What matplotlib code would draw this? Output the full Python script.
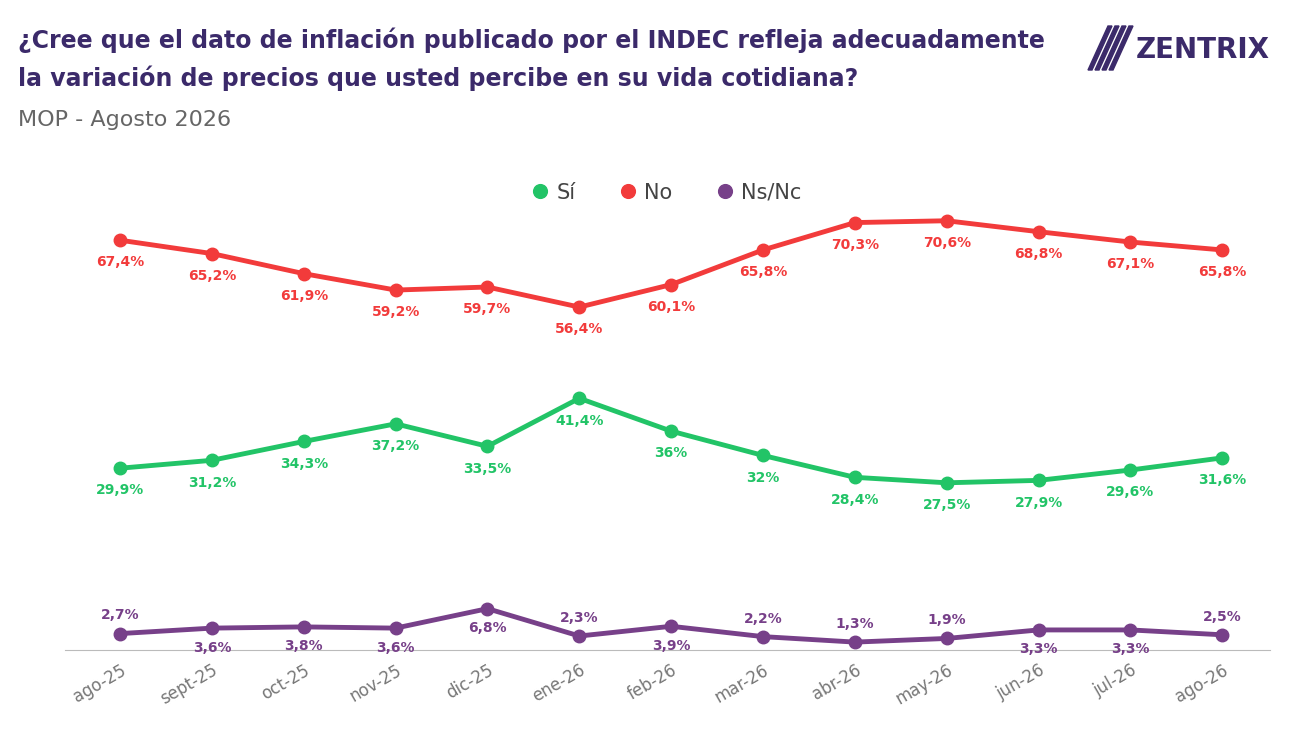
import matplotlib.pyplot as plt
from matplotlib.patches import Polygon

meses = ["ago-25", "sept-25", "oct-25", "nov-25", "dic-25", "ene-26", "feb-26",
         "mar-26", "abr-26", "may-26", "jun-26", "jul-26", "ago-26"]
si = [29.9, 31.2, 34.3, 37.2, 33.5, 41.4, 36, 32, 28.4, 27.5, 27.9, 29.6, 31.6]
no = [67.4, 65.2, 61.9, 59.2, 59.7, 56.4, 60.1, 65.8, 70.3, 70.6, 68.8, 67.1, 65.8]
nsnc = [2.7, 3.6, 3.8, 3.6, 6.8, 2.3, 3.9, 2.2, 1.3, 1.9, 3.3, 3.3, 2.5]
nsnc_arriba = [True, False, False, False, False, True, False, True, True, True, False, False, True]

c_si, c_no, c_ns = "#22c467", "#f23b3b", "#774089"
c_title = "#3b2a6a"

fig = plt.figure(figsize=(13, 7.31), dpi=100)
ax = fig.add_axes([65 / 1300, 1 - 650 / 731, 1205 / 1300, 456 / 731])
x = list(range(len(meses)))

def fmt(v):
    s = f"{v:.1f}".replace(".", ",")
    if s.endswith(",0"):
        s = s[:-2]
    return s + "%"

for vals, col, name in [(si, c_si, "Sí"), (no, c_no, "No"), (nsnc, c_ns, "Ns/Nc")]:
    ax.plot(x, vals, color=col, lw=3.5, marker="o", ms=9, label=name, solid_capstyle="round")

for i in x:
    ax.annotate(fmt(si[i]), (i, si[i]), xytext=(0, -11), textcoords="offset points",
                ha="center", va="top", color=c_si, fontsize=10, fontweight="bold")
    ax.annotate(fmt(no[i]), (i, no[i]), xytext=(0, -11), textcoords="offset points",
                ha="center", va="top", color=c_no, fontsize=10, fontweight="bold")
    if nsnc_arriba[i]:
        ax.annotate(fmt(nsnc[i]), (i, nsnc[i]), xytext=(0, 8), textcoords="offset points",
                    ha="center", va="bottom", color=c_ns, fontsize=10, fontweight="bold")
    else:
        ax.annotate(fmt(nsnc[i]), (i, nsnc[i]), xytext=(0, -9), textcoords="offset points",
                    ha="center", va="top", color=c_ns, fontsize=10, fontweight="bold")

ax.set_xlim(-0.6, 12.52)
ax.set_ylim(0, 75)
ax.set_yticks([])
ax.set_xticks(x)
ax.set_xticklabels(meses, rotation=30, ha="right", rotation_mode="anchor",
                   fontsize=12, color="#777777")
ax.tick_params(axis="x", length=0, pad=8)
for s in ["top", "right", "left"]:
    ax.spines[s].set_visible(False)
ax.spines["bottom"].set_color("#bbbbbb")

ax.legend(loc="upper center", bbox_to_anchor=(0.5, 1.0 + 30 / 456), ncol=3, frameon=False,
          fontsize=15, handlelength=0.6, handletextpad=0.5, columnspacing=2.2,
          markerscale=1.1, labelcolor="#444444")
for h in ax.get_legend().get_lines():
    h.set_linewidth(0)

fig.text(18 / 1300, 1 - 40 / 731, "¿Cree que el dato de inflación publicado por el INDEC refleja adecuadamente",
         fontsize=17, fontweight="bold", color=c_title, va="center")
fig.text(18 / 1300, 1 - 78 / 731, "la variación de precios que usted percibe en su vida cotidiana?",
         fontsize=17, fontweight="bold", color=c_title, va="center")
fig.text(18 / 1300, 1 - 120 / 731, "MOP - Agosto 2026", fontsize=16, color="#666666", va="center")

# logo
for k in range(4):
    x0 = 1088 + k * 7
    pts = [(x0, 70), (x0 + 4, 70), (x0 + 24, 26), (x0 + 20, 26)]
    fig.patches.append(Polygon([(px / 1300, 1 - py / 731) for px, py in pts],
                               closed=True, transform=fig.transFigure, color=c_title))
fig.text(1136 / 1300, 1 - 50 / 731, "ZENTRIX", fontsize=20, fontweight="bold",
         color=c_title, va="center")

fig.savefig("out.png", dpi=100, facecolor="white")
